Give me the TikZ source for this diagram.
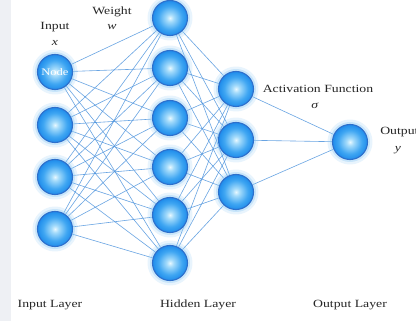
\documentclass[tikz,border=0pt]{standalone}
\usepackage{fontspec}
\setmainfont{Liberation Serif}
\definecolor{wire}{HTML}{4F95DE}
\definecolor{nodeline}{HTML}{2E6FCB}
\definecolor{ballA}{HTML}{E8F8FF}
\definecolor{ballB}{HTML}{A6DCFB}
\definecolor{ballC}{HTML}{3FA6F2}
\definecolor{ballD}{HTML}{1F8CEB}
\definecolor{glow}{HTML}{8FCBF5}
\definecolor{strip}{HTML}{EEF0F4}
\pgfdeclareradialshading{ball}{\pgfpoint{0bp}{0bp}}{color(0bp)=(ballA); color(5bp)=(ballB); color(17bp)=(ballC); color(25bp)=(ballD); color(50bp)=(ballD)}
\pgfdeclarelayer{bg}
\pgfsetlayers{bg,main}
\begin{document}
\begin{tikzpicture}[x=1pt,y=1pt,line join=round,line cap=round,font=\fontsize{11}{13}\selectfont,
	neuron/.style={circle,minimum size=35pt,inner sep=0pt,draw=nodeline,line width=1.1pt,shading=ball,
		preaction={draw=glow,line width=10pt,opacity=0.2},
		preaction={draw=glow,line width=5pt,opacity=0.35}},
	lab/.style={xscale=1.25,transform shape,inner sep=0pt,text=black!85},
	edge/.style={draw=wire,line width=0.6pt,opacity=0.85}]
	\useasboundingbox (0,0) rectangle (416,-321);
	% cac nut
	\foreach \n/\y in {1/72,2/125,3/177,4/229}{
		\node[neuron] (i\n) at (55,-\y) {};
	}
	\foreach \n/\y in {1/18,2/68,3/118,4/167,5/215,6/263}{
		\node[neuron] (h\n) at (170,-\y) {};
	}
	\foreach \n/\y in {1/89,2/140,3/192}{
		\node[neuron] (a\n) at (236,-\y) {};
	}
	\node[neuron] (o1) at (350,-142) {};
	\node[lab,text=white,font=\fontsize{10}{12}\selectfont] (tNode) at (i1) {Node};
	% nen va cac canh
	\begin{pgfonlayer}{bg}
		\fill[white] (0,0) rectangle (416,-321);
		\fill[strip] (0,0) rectangle (11,-321);
		\foreach \i in {1,...,4}{
			\foreach \j in {1,...,6}{
				\draw[edge] (i\i) -- (h\j);
			}
		}
		\foreach \i in {1,...,6}{
			\foreach \j in {1,2,3}{
				\draw[edge] (h\i) -- (a\j);
			}
		}
		\foreach \i in {1,2,3}{
			\draw[edge] (a\i) -- (o1);
		}
	\end{pgfonlayer}
	% nhan
	\node[lab] (tIn) at (55,-27) {Input};
	\node[lab] (tx) at (55,-43) {\textit{x}};
	\node[lab] (tW) at (112,-12) {Weight};
	\node[lab] (tw) at (112,-27) {\textit{w}};
	\node[lab] (tAct) at (318,-89) {Activation Function};
	\node[lab] (ts) at (315,-106) {\textit{σ}};
	\node[lab,anchor=west] (tOut) at (380,-132) {Output};
	\node[lab] (ty) at (398,-150) {\textit{y}};
	\node[lab] (l1) at (50,-305) {Input Layer};
	\node[lab] (l2) at (198,-305) {Hidden Layer};
	\node[lab] (l3) at (350,-305) {Output Layer};
\end{tikzpicture}
\end{document}
